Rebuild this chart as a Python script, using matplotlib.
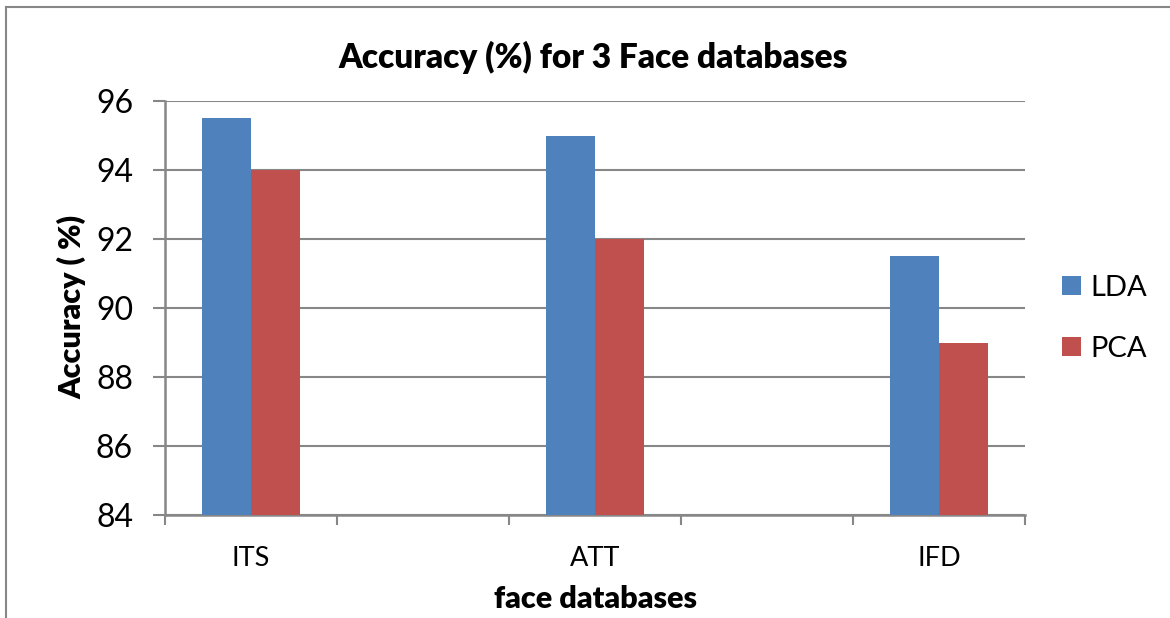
"""
Accuracy (%) of LDA vs PCA on 3 face databases
"""

import matplotlib.pyplot as plt
import matplotlib.lines as mlines
import numpy as np

plt.rcParams['font.family'] = ['Lato', 'DejaVu Sans']

# Excel sheet had blank rows between the databases -> 5 category slots
categories = ['ITS', '', 'ATT', '', 'IFD']
lda = [95.5, np.nan, 95.0, np.nan, 91.5]
pca = [94.0, np.nan, 92.0, np.nan, 89.0]
yticks = [84, 86, 88, 90, 92, 94, 96]

BLUE = '#4F81BD'
RED = '#C0504D'
GRAY = '#878787'

if __name__ == "__main__":
    fig = plt.figure(figsize=(11.7, 6.18), dpi=100)
    ax = fig.add_axes([165 / 1170, 1 - 515 / 618, 860 / 1170, 414 / 618])

    x = np.arange(len(categories))
    w = 0.285
    ax.bar(x - w / 2, lda, width=w, color=BLUE, label='LDA', zorder=3)
    ax.bar(x + w / 2, pca, width=w, color=RED, label='PCA', zorder=3)

    ax.set_ylim(yticks[0], yticks[-1])
    ax.set_yticks(yticks)
    ax.set_xlim(-0.5, len(categories) - 0.5)
    ax.set_xticks(x)
    ax.set_xticklabels(categories)
    ax.set_xticks(np.arange(-0.5, len(categories)), minor=True)
    ax.tick_params(axis='x', which='major', length=0, labelsize=19.5, pad=22)
    ax.tick_params(axis='x', which='minor', length=7, width=1.5, color=GRAY, direction='out')
    ax.tick_params(axis='y', length=9, width=1.5, color=GRAY, direction='out', labelsize=23, pad=14)

    ax.grid(axis='y', color=GRAY, linewidth=1.5, zorder=0)
    for s in ['top', 'right']:
        ax.spines[s].set_visible(False)
    for s in ['left', 'bottom']:
        ax.spines[s].set_color(GRAY)
        ax.spines[s].set_linewidth(1.8)

    fig.text(593 / 1170, 1 - 57 / 618, 'Accuracy (%) for 3 Face databases',
             ha='center', va='center', fontsize=24, fontweight='heavy')
    fig.text(595 / 1170, 1 - 599 / 618, 'face databases',
             ha='center', va='center', fontsize=22, fontweight='heavy')
    fig.text(72 / 1170, 1 - 307 / 618, 'Accuracy ( %)', rotation=90,
             ha='center', va='center', fontsize=22, fontweight='heavy')

    ax.legend(loc='center left', bbox_to_anchor=(1.012, 0.475), frameon=False,
              fontsize=21, handlelength=0.65, handleheight=0.65,
              handletextpad=0.35, labelspacing=1.2)

    # chart frame (only left/top visible in the crop)
    fig.add_artist(mlines.Line2D([6 / 1170, 6 / 1170], [0, 1 - 7 / 618],
                                 color=GRAY, linewidth=1.5, transform=fig.transFigure))
    fig.add_artist(mlines.Line2D([6 / 1170, 1], [1 - 7 / 618, 1 - 7 / 618],
                                 color=GRAY, linewidth=1.5, transform=fig.transFigure))

    fig.savefig('out.png', dpi=100)
    plt.close()
